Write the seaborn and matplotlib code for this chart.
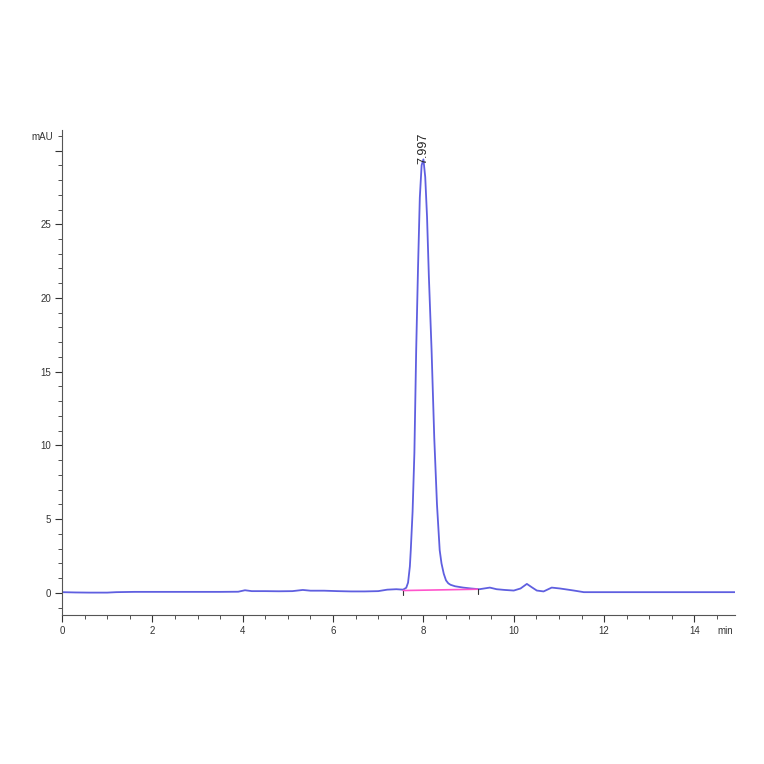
import numpy as np
import pandas as pd
import seaborn as sns
import matplotlib.pyplot as plt
from matplotlib.ticker import MultipleLocator, FuncFormatter

time = [0.0, 0.3, 0.6, 1.0, 1.2, 1.6, 2.0, 2.5, 3.0, 3.5, 3.9, 4.05, 4.2, 4.5,
        4.8, 5.1, 5.33, 5.5, 5.8, 6.1, 6.4, 6.7, 7.0, 7.2, 7.4, 7.55, 7.62,
        7.66, 7.7, 7.72, 7.76, 7.8, 7.84, 7.88, 7.92, 7.96, 8.0, 8.04, 8.08,
        8.12, 8.18, 8.24, 8.3, 8.36, 8.4, 8.45, 8.5, 8.55, 8.6, 8.7, 8.88,
        9.05, 9.24, 9.47, 9.62, 9.8, 10.0, 10.15, 10.29, 10.4, 10.51, 10.66,
        10.84, 11.02, 11.2, 11.33, 11.55, 12.0, 13.0, 14.0, 14.9]
signal = [0.05, 0.03, 0.02, 0.02, 0.05, 0.07, 0.07, 0.07, 0.07, 0.07, 0.08,
          0.18, 0.12, 0.12, 0.11, 0.12, 0.2, 0.15, 0.15, 0.12, 0.1, 0.1, 0.12,
          0.22, 0.25, 0.22, 0.35, 0.7, 1.8, 2.9, 5.5, 9.5, 16.5, 22.0, 26.8,
          29.0, 29.4, 28.2, 25.5, 21.5, 16.5, 10.5, 6.0, 2.9, 2.0, 1.3, 0.85,
          0.65, 0.55, 0.45, 0.36, 0.3, 0.25, 0.36, 0.25, 0.2, 0.16, 0.3, 0.61,
          0.38, 0.16, 0.1, 0.36, 0.3, 0.22, 0.16, 0.05, 0.05, 0.05, 0.05, 0.05]

# базовая линия интегрирования пика
base_t = [7.55, 9.2]
base_y = [0.16, 0.25]

peak_t = 7.997
peak_y = 29.4
peak_label = "7.997"

df = pd.DataFrame({'t': time, 'y': signal})

sns.set_theme(style='ticks')
plt.rcParams['font.family'] = ['Liberation Sans', 'DejaVu Sans']

fig = plt.figure(figsize=(7.64, 7.64), dpi=100)
ax = fig.add_axes([0.0812, 0.195, 0.881, 0.635])

sns.lineplot(data=df, x='t', y='y', ax=ax, color='#5f5fe0', lw=1.3, sort=False)
ax.plot(base_t, base_y, color='#ff55cc', lw=1.2)
# метки начала/конца базовой линии
for bt, by in zip(base_t, base_y):
    ax.plot([bt, bt], [by, by - 0.3], color='#333333', lw=0.8)

ax.text(peak_t, peak_y - 0.3, peak_label, rotation=90, ha='center', va='bottom',
        fontsize=9, color='#222222')

ax.set_xlim(0, 14.9)
ax.set_ylim(-1.5, 31.4)
ax.xaxis.set_major_locator(MultipleLocator(2))
ax.xaxis.set_minor_locator(MultipleLocator(0.5))
ax.yaxis.set_major_locator(MultipleLocator(5))
ax.yaxis.set_minor_locator(MultipleLocator(1))
# метка 30 не подписана (там стоит mAU)
ax.yaxis.set_major_formatter(FuncFormatter(lambda v, p: '' if v >= 30 else f'{v:g}'))
ax.tick_params(axis='both', which='major', direction='out', length=5, width=0.8,
               labelsize=7, colors='#333333', pad=3)
ax.tick_params(axis='both', which='minor', direction='out', length=3, width=0.6,
               colors='#333333')
ax.set_xlabel('')
ax.set_ylabel('')
for s in ['top', 'right']:
    ax.spines[s].set_visible(False)
for s in ['left', 'bottom']:
    ax.spines[s].set_color('#555555')
    ax.spines[s].set_linewidth(0.8)

ax.annotate('min', xy=(14.68, 0), xycoords=('data', 'axes fraction'),
            xytext=(0, -8), textcoords='offset points', ha='center', va='top',
            fontsize=7, color='#333333')
ax.annotate('mAU', xy=(0, 1), xycoords='axes fraction', xytext=(-14, -5),
            textcoords='offset points', ha='center', va='center',
            fontsize=7, color='#333333')

fig.savefig('out.png', dpi=100)
